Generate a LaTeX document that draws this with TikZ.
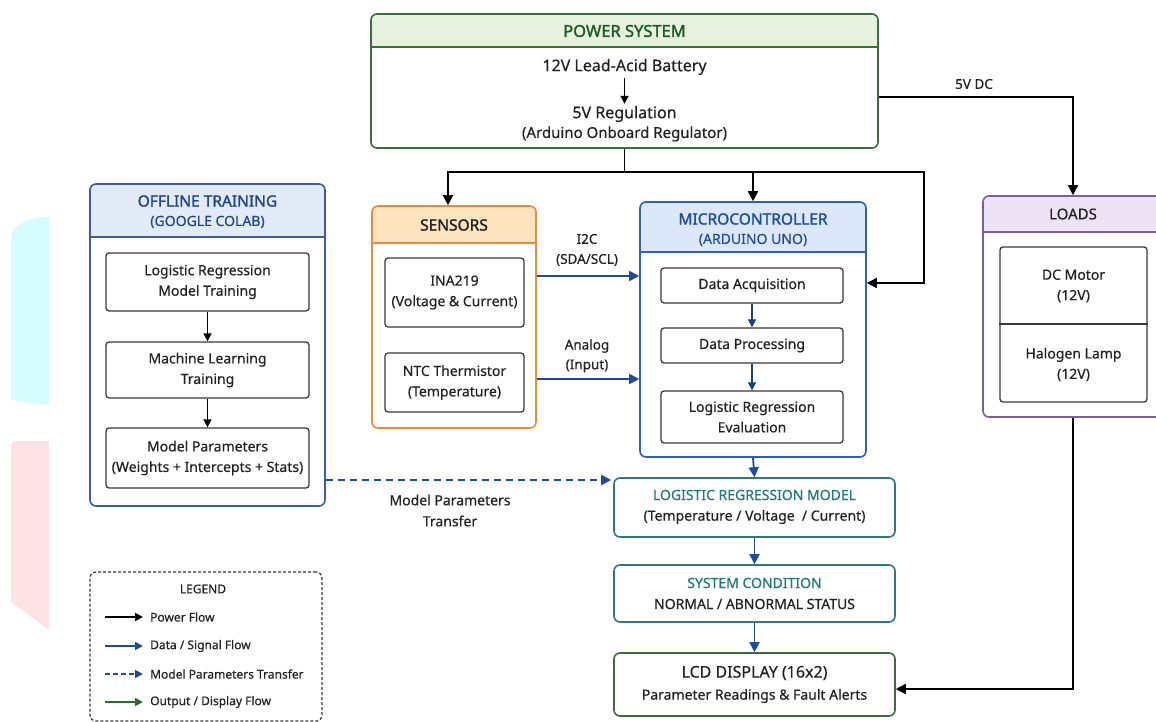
\documentclass[tikz,border=0pt]{standalone}
\usepackage{fontspec}
\setmainfont{Noto Sans}[UprightFeatures={FakeBold=0.4}, BoldFont={Noto Sans}, BoldFeatures={FakeBold=1.6}]
\usetikzlibrary{arrows.meta,fit}
\definecolor{gborder}{HTML}{3B6E3B}
\definecolor{gfill}{HTML}{E6F2DD}
\definecolor{gtext}{HTML}{1F5B26}
\definecolor{bborder}{HTML}{3D5BA9}
\definecolor{bfill}{HTML}{E2EAF7}
\definecolor{btext}{HTML}{21468C}
\definecolor{oborder}{HTML}{EE8A3A}
\definecolor{ofill}{HTML}{FDE4BE}
\definecolor{mborder}{HTML}{2C5FBE}
\definecolor{mfill}{HTML}{DCE7FB}
\definecolor{mtext}{HTML}{1F4EA0}
\definecolor{pborder}{HTML}{7B5EA7}
\definecolor{pfill}{HTML}{ECE3F6}
\definecolor{teal}{HTML}{2B7B7B}
\definecolor{tealtext}{HTML}{1F7A78}
\definecolor{lcdborder}{HTML}{3D6B3D}
\definecolor{dblue}{HTML}{1F4B9B}
\definecolor{navy}{HTML}{1C3F7A}
\definecolor{ogreen}{HTML}{2D6A2D}
\definecolor{ibc}{HTML}{3A3A3A}
\definecolor{txt}{HTML}{222222}
\definecolor{cyanstrip}{HTML}{D5FDFD}
\definecolor{pinkstrip}{HTML}{FDE3E3}
\newcommand{\container}[8]{%
  \begin{scope}
    \clip[rounded corners=6pt] (#2,#3) rectangle (#4,#5);
    \fill[#8] (#2,#3) rectangle (#4,#6);
  \end{scope}
  \draw[#7, line width=1.3pt] (#2,#6) -- (#4,#6);
  \node[fit={(#2,#3) (#4,#5)}, inner sep=0pt, draw=#7, line width=1.6pt, rounded corners=6pt] (#1) {};
}
\tikzset{
  f16/.style={font=\fontsize{16}{20}\selectfont},
  f15/.style={font=\fontsize{15}{20}\selectfont},
  f14/.style={font=\fontsize{14}{20.5}\selectfont},
  f13/.style={font=\fontsize{13.5}{20}\selectfont},
  f12/.style={font=\fontsize{12}{15}\selectfont},
  hd/.style={font=\fontsize{15.5}{20}\selectfont\bfseries},
  lbl/.style={inner sep=0pt, text=txt, align=center},
  inbox/.style={draw=ibc, line width=1.3pt, rounded corners=3pt, align=center, inner sep=0pt, text=txt, f14},
  pa/.style={draw=black, line width=1.8pt, -{Triangle[length=10pt,width=10pt]}},
  pline/.style={draw=black, line width=1.8pt},
  sa/.style={draw=black, line width=1.6pt, -{Triangle[length=8pt,width=8pt]}},
  dat/.style={draw=dblue, line width=1.8pt, -{Triangle[length=10pt,width=10pt]}},
  nav/.style={draw=navy, line width=1.6pt, -{Triangle[length=8pt,width=8pt]}},
  dsh/.style={draw=dblue, line width=1.8pt, dash pattern=on 7pt off 5pt, -{Triangle[length=10pt,width=10pt]}},
  lga/.style={line width=1.8pt, -{Triangle[length=8pt,width=8pt]}},
}
\begin{document}
\begin{tikzpicture}[x=1pt,y=-1pt]
\useasboundingbox (0,0) rectangle (1156,722);
\clip (0,0) rectangle (1156,722);
\fill[white] (0,0) rectangle (1156,722);
% left edge strips
\fill[cyanstrip] (11,238) .. controls (11,225) and (30,217) .. (49,217) -- (49,405) -- (11,400) -- cycle;
\fill[pinkstrip] (11,446) .. controls (11,443) and (13,441) .. (16,441) -- (49,441) -- (49,630) -- (11,602) -- cycle;

% POWER SYSTEM
\container{power}{371}{14}{878}{148}{47}{gborder}{gfill}
\node[lbl, hd, text=gtext, font=\fontsize{16.5}{20}\selectfont\bfseries] (powerT) at (624.5,31) {POWER SYSTEM};
\node[lbl, f16] (bat) at (624.5,67) {12V Lead-Acid Battery};
\node[lbl, f16] (reg) at (624.5,114) {5V Regulation};
\node[lbl, f15] (regsub) at (624.5,134) {(Arduino Onboard Regulator)};
\draw[sa, shorten <=3pt, shorten >=2pt] (bat.south) -- (reg.north);

% OFFLINE TRAINING
\container{offline}{90}{184}{325}{506}{237}{bborder}{bfill}
\node[lbl, hd, text=btext] (offT) at (207.5,201) {OFFLINE TRAINING};
\node[lbl, f14, text=btext] (offS) at (207.5,222) {(GOOGLE COLAB)};
\node[inbox, minimum width=203, minimum height=58] (ot1) at (207.5,282) {Logistic Regression\\Model Training};
\node[inbox, minimum width=203, minimum height=56] (ot2) at (207.5,370) {Machine Learning\\Training};
\node[inbox, minimum width=203, minimum height=60] (ot3) at (207.5,458) {Model Parameters\\(Weights + Intercepts + Stats)};
\draw[sa] (ot1) -- (ot2);
\draw[sa] (ot2) -- (ot3);

% SENSORS
\container{sensors}{372}{206}{536}{428}{243}{oborder}{ofill}
\node[lbl, hd] (senT) at (454,225) {SENSORS};
\node[inbox, minimum width=139, minimum height=69] (ina) at (454.5,292.5) {INA219\\(Voltage \& Current)};
\node[inbox, minimum width=139, minimum height=59] (ntc) at (454.5,382.5) {NTC Thermistor\\(Temperature)};

% MICROCONTROLLER
\container{micro}{640}{202}{866}{457}{252}{mborder}{mfill}
\node[lbl, hd, text=mtext] (micT) at (753,219) {MICROCONTROLLER};
\node[lbl, f14, text=mtext] (micS) at (753,240) {(ARDUINO UNO)};
\node[inbox, minimum width=182, minimum height=35] (da) at (752,285.5) {Data Acquisition};
\node[inbox, minimum width=182, minimum height=35] (dp) at (752,345.5) {Data Processing};
\node[inbox, minimum width=182, minimum height=52] (lre) at (752,417) {Logistic Regression\\Evaluation};
\draw[nav] (da) -- (dp);
\draw[nav] (dp) -- (lre);

% LOADS
\container{loads}{983}{196}{1163}{417}{232}{pborder}{pfill}
\node[lbl, f15] (loadT) at (1073,214) {LOADS};
\node[draw=ibc, line width=1.3pt, rounded corners=3pt, minimum width=147, minimum height=155, inner sep=0pt] (loadin) at (1073.5,324.5) {};
\draw[ibc, line width=1.3pt] (loadin.west |- 0,324) -- (loadin.east |- 0,324);
\node[lbl, f14] (dcm) at (1073.5,286) {DC Motor\\(12V)};
\node[lbl, f14] (hal) at (1073.5,364.5) {Halogen Lamp\\(12V)};

% LR model, condition, LCD
\node[draw=teal, line width=1.6pt, rounded corners=6pt, minimum width=281, minimum height=59, inner sep=0pt] (lrm) at (754.5,507.5) {};
\node[lbl, f14, text=tealtext] (lrmT) at (754.5,495) {LOGISTIC REGRESSION MODEL};
\node[lbl, f14] (lrmS) at (754.5,517) {(Temperature / Voltage~ / Current)};
\node[draw=teal, line width=1.6pt, rounded corners=6pt, minimum width=281, minimum height=57, inner sep=0pt] (cond) at (754.5,593.5) {};
\node[lbl, f14, text=tealtext] (condT) at (754.5,583) {SYSTEM CONDITION};
\node[lbl, f14] (condS) at (754.5,604) {NORMAL / ABNORMAL STATUS};
\node[draw=lcdborder, line width=1.6pt, rounded corners=6pt, minimum width=281, minimum height=63, inner sep=0pt] (lcd) at (754.5,684.5) {};
\node[lbl, f16] (lcdT) at (754.5,673) {LCD DISPLAY (16x2)};
\node[lbl, f14] (lcdS) at (754.5,696) {Parameter Readings \& Fault Alerts};

% power connectors
\coordinate (pbus) at (624.5,172);
\coordinate (rbus) at (924,172);
\coordinate (rdown) at (924,283);
\draw[pline] (power.south) -- (pbus);
\draw[pa] (pbus) -| (448,0 |- sensors.north);
\draw[pa] (pbus) -| (micro.north);
\draw[pa] (pbus) -- (rbus) -- (rdown) -- (micro.east |- rdown);
\coordinate (lturn) at (1073,97);
\draw[pa] (power.east |- lturn) -- (lturn) -- (loads.north);
\node[lbl, f13] (vdc) at (974,84) {5V DC};
\coordinate (lcdturn) at (1073,689);
\draw[pa] (loads.south) -- (lcdturn) -- (lcd.east |- lcdturn);

% data connectors
\coordinate (i2cy) at (0,276);
\coordinate (any) at (0,379);
\draw[dat] (sensors.east |- i2cy) -- (micro.west |- i2cy);
\draw[dat] (sensors.east |- any) -- (micro.west |- any);
\node[lbl, f13] (i2c) at (587,239) {I2C};
\node[lbl, f13] (sdascl) at (587,260) {(SDA/SCL)};
\node[lbl, f13] (analog) at (587,346) {Analog};
\node[lbl, f13] (input) at (587,366) {(Input)};
\draw[dat] (micro.south) -- (lrm.north);
\draw[dat] (lrm) -- (cond);
\draw[dat] (cond) -- (lcd);

% model parameters transfer
\coordinate (dy) at (0,480);
\draw[dsh] (offline.east |- dy) -- ([xshift=-2pt]lrm.west |- dy);
\node[lbl, f14] (mpt) at (450,500) {Model Parameters};
\node[lbl, f14] (mpt2) at (450,521) {Transfer};

% legend
\node[fit={(90,572) (322,721)}, inner sep=0pt, draw=ibc, line width=1.2pt, dash pattern=on 3pt off 2pt, rounded corners=6pt] (legend) {};
\node[lbl, f12] (legT) at (203,589) {LEGEND};
\coordinate (l1a) at (105,617); \coordinate (l1b) at (143,617);
\coordinate (l2a) at (105,646); \coordinate (l2b) at (143,646);
\coordinate (l3a) at (105,674); \coordinate (l3b) at (143,674);
\coordinate (l4a) at (105,702); \coordinate (l4b) at (143,702);
\draw[lga, black] (l1a) -- (l1b);
\draw[lga, dblue] (l2a) -- (l2b);
\draw[lga, dblue, dash pattern=on 5pt off 3pt] (l3a) -- (l3b);
\draw[lga, ogreen] (l4a) -- (l4b);
\node[lbl, f12, anchor=west] (lg1) at (150,617) {Power Flow};
\node[lbl, f12, anchor=west] (lg2) at (150,646) {Data / Signal Flow};
\node[lbl, f12, anchor=west] (lg3) at (150,674) {Model Parameters Transfer};
\node[lbl, f12, anchor=west] (lg4) at (150,702) {Output / Display Flow};
\end{tikzpicture}
\end{document}
